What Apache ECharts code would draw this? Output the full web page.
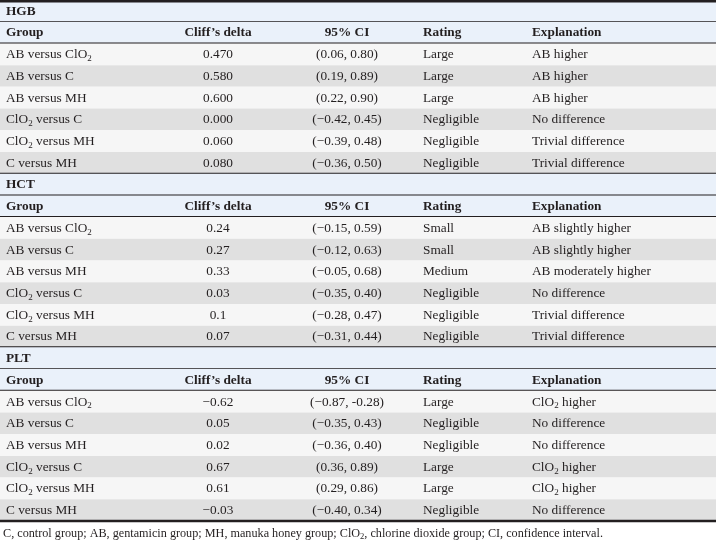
<!DOCTYPE html>
<html>
<head>
<meta charset="utf-8">
<script src="https://cdn.jsdelivr.net/npm/echarts@6/dist/echarts.min.js"></script>
<style>html,body{margin:0;padding:0;background:#fff;}#c{width:716px;height:543px;}</style>
</head>
<body>
<div id="c"></div>
<script>
// ---- data ----
const sections = ['HGB', 'HCT', 'PLT'];
const headers = ['Group', 'Cliff\u2019s delta', '95% CI', 'Rating', 'Explanation'];
const groups = ['AB versus ClO2', 'AB versus C', 'AB versus MH', 'ClO2 versus C', 'ClO2 versus MH', 'C versus MH'];

const hgbDelta = ['0.470', '0.580', '0.600', '0.000', '0.060', '0.080'];
const hgbCI = ['(0.06, 0.80)', '(0.19, 0.89)', '(0.22, 0.90)', '(\u22120.42, 0.45)', '(\u22120.39, 0.48)', '(\u22120.36, 0.50)'];
const hgbRating = ['Large', 'Large', 'Large', 'Negligible', 'Negligible', 'Negligible'];
const hgbExpl = ['AB higher', 'AB higher', 'AB higher', 'No difference', 'Trivial difference', 'Trivial difference'];

const hctDelta = ['0.24', '0.27', '0.33', '0.03', '0.1', '0.07'];
const hctCI = ['(\u22120.15, 0.59)', '(\u22120.12, 0.63)', '(\u22120.05, 0.68)', '(\u22120.35, 0.40)', '(\u22120.28, 0.47)', '(\u22120.31, 0.44)'];
const hctRating = ['Small', 'Small', 'Medium', 'Negligible', 'Negligible', 'Negligible'];
const hctExpl = ['AB slightly higher', 'AB slightly higher', 'AB moderately higher', 'No difference', 'Trivial difference', 'Trivial difference'];

const pltDelta = ['\u22120.62', '0.05', '0.02', '0.67', '0.61', '\u22120.03'];
const pltCI = ['(\u22120.87, -0.28)', '(\u22120.35, 0.43)', '(\u22120.36, 0.40)', '(0.36, 0.89)', '(0.29, 0.86)', '(\u22120.40, 0.34)'];
const pltRating = ['Large', 'Negligible', 'Negligible', 'Large', 'Large', 'Negligible'];
const pltExpl = ['ClO2 higher', 'No difference', 'No difference', 'ClO2 higher', 'ClO2 higher', 'No difference'];

const footnote = 'C, control group; AB, gentamicin group; MH, manuka honey group; ClO2, chlorine dioxide group; CI, confidence interval.';

// ---- build rows ----
const sectionData = [
  [hgbDelta, hgbCI, hgbRating, hgbExpl],
  [hctDelta, hctCI, hctRating, hctExpl],
  [pltDelta, pltCI, pltRating, pltExpl]
];
const rows = [];
sections.forEach((s, si) => {
  rows.push({ type: 'title', cells: [s] });
  rows.push({ type: 'header', cells: headers });
  groups.forEach((g, gi) => {
    const d = sectionData[si];
    rows.push({ type: 'data', alt: gi % 2, last: gi === groups.length - 1, cells: [g, d[0][gi], d[1][gi], d[2][gi], d[3][gi]] });
  });
});

// ---- layout / style ----
const W = 716;
const colX = [6, 218, 347, 423, 532];
const colAlign = ['left', 'center', 'center', 'left', 'left'];
const INK = '#231f20';
const FONT = '"Liberation Serif", "Times New Roman", serif';
const BG = { title: '#eaf1fa', header: '#eaf1fa', data0: '#f6f6f6', data1: '#e0e0e0' };
const sub = (s) => s.replace(/ClO2/g, 'ClO{sub|2}');
const richSub = { sub: { fontSize: 9, fontFamily: FONT, fill: INK, color: INK, lineHeight: 12, padding: [8, 0, 0, 0] } };

function renderItem(params, api) {
  const idx = api.value(0);
  const row = rows[idx];
  const c = api.coord([0, idx]);
  const right = api.coord([W, idx])[0];
  const h = api.size([0, 1])[1];
  const top = c[1] - h / 2;
  const bottom = c[1] + h / 2;
  const children = [];
  const bg = row.type === 'data' ? (row.alt ? BG.data1 : BG.data0) : BG[row.type];
  children.push({ type: 'rect', shape: { x: c[0], y: top, width: right - c[0], height: h }, style: { fill: bg } });
  const bold = row.type !== 'data';
  row.cells.forEach((t, ci) => {
    const x = api.coord([colX[ci], idx])[0];
    children.push({
      type: 'text',
      style: {
        text: sub(t), x: x, y: c[1] + 0.5,
        align: colAlign[ci], verticalAlign: 'middle',
        fill: INK, fontFamily: FONT, fontSize: 13.3, fontWeight: bold ? 'bold' : 'normal',
        lineHeight: 16, rich: richSub
      }
    });
  });
  const line = (y, w) => children.push({ type: 'line', shape: { x1: c[0], y1: y, x2: right, y2: y }, style: { stroke: INK, lineWidth: w } });
  if (row.type === 'title') { if (idx === 0) line(top + 1.2, 2.4); line(bottom, 1.6); }
  if (row.type === 'header') line(bottom, 2);
  if (row.type === 'data' && row.last) line(bottom, idx === rows.length - 1 ? 2.4 : 2);
  return { type: 'group', children: children };
}

const chart = echarts.init(document.getElementById('c'), null, { renderer: 'canvas' });
chart.setOption({
  animation: false,
  backgroundColor: '#fff',
  title: {
    text: sub(footnote), left: 3, top: 526, padding: 0,
    textStyle: { fontFamily: FONT, fontSize: 12.2, fontWeight: 'normal', color: INK, lineHeight: 15,
      rich: { sub: { fontSize: 8.5, fontFamily: FONT, color: INK, lineHeight: 10, padding: [7, 0, 0, 0] } } }
  },
  grid: { left: 0, right: 0, top: 0, bottom: 22 },
  xAxis: { type: 'value', min: 0, max: W, show: false },
  yAxis: { type: 'category', inverse: true, show: false, data: rows.map((r, i) => String(i)) },
  series: [{
    type: 'custom',
    renderItem: renderItem,
    encode: { y: 0 },
    data: rows.map((r, i) => [i]),
    clip: false
  }]
});
</script>
</body>
</html>
